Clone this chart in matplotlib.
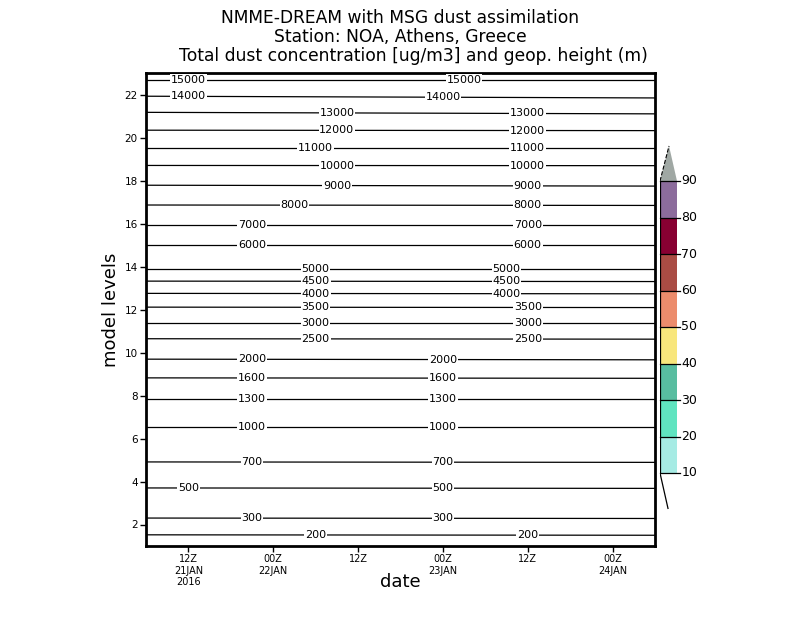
import matplotlib
matplotlib.use("Agg")
import matplotlib.pyplot as plt
import numpy as np

# geopotential height contours (m) and their position in model levels
geop_levels = [15000, 14000, 13000, 12000, 11000, 10000, 9000, 8000, 7000, 6000,
               5000, 4500, 4000, 3500, 3000, 2500, 2000, 1600, 1300, 1000,
               700, 500, 300, 200]
level_start = [22.69, 21.92, 21.17, 20.34, 19.51, 18.70, 17.78, 16.86, 15.91, 14.98,
               13.89, 13.32, 12.75, 12.11, 11.39, 10.64, 9.69, 8.82, 7.84, 6.55,
               4.91, 3.70, 2.30, 1.52]
level_end = [22.69, 21.84, 21.10, 20.32, 19.51, 18.69, 17.74, 16.84, 15.91, 14.98,
             13.89, 13.30, 12.73, 12.09, 11.39, 10.62, 9.66, 8.80, 7.84, 6.55,
             4.89, 3.68, 2.28, 1.50]
# hours after 06Z 21JAN where the labels sit
label_first = [6, 6, 27, 27, 24, 27, 27, 21, 15, 15,
               24, 24, 24, 24, 24, 24, 15, 15, 15, 15,
               15, 6, 15, 24]
label_second = [45, 42, 54, 54, 54, 54, 54, 54, 54, 54,
                51, 51, 51, 54, 54, 54, 42, 42, 42, 42,
                42, 42, 42, 54]

time_span = [0, 72]
xtick_hours = [6, 18, 30, 42, 54, 66]
xtick_labels = ["12Z\n21JAN\n2016", "00Z\n22JAN", "12Z", "00Z\n23JAN", "12Z", "00Z\n24JAN"]
ytick_levels = [2, 4, 6, 8, 10, 12, 14, 16, 18, 20, 22]

# dust colour scale
dust_bounds = [10, 20, 30, 40, 50, 60, 70, 80, 90]
dust_colors = ["#a6ebe4", "#60e4c0", "#58bda0", "#f8e67c", "#ec8c6c",
               "#aa4c44", "#880032", "#8c6c9c"]
over_color = "#a0a8a4"

W, H = 800, 618
fig = plt.figure(figsize=(8, 6.18), dpi=100)
ax = fig.add_axes([146 / W, 1 - 546 / H, 509 / W, 473 / H])

for g, y0, y1, l1, l2 in zip(geop_levels, level_start, level_end, label_first, label_second):
    ax.plot(time_span, [y0, y1], color="black", lw=0.9)
    for lh in (l1, l2):
        yy = y0 + (y1 - y0) * lh / 72
        ax.text(lh, yy, str(g), fontsize=8, ha="center", va="center",
                bbox=dict(facecolor="white", edgecolor="none", pad=0.6))

ax.set_xlim(0, 72)
ax.set_ylim(1, 23)
ax.set_xticks(xtick_hours)
ax.set_xticklabels(xtick_labels, fontsize=7, linespacing=1.15)
ax.set_yticks(ytick_levels)
ax.set_yticklabels([str(v) for v in ytick_levels], fontsize=7.5)
ax.tick_params(direction="out", length=4, width=1, pad=2)
for sp in ax.spines.values():
    sp.set_linewidth(2)
ax.set_xlabel("date", fontsize=13, labelpad=-10)
ax.set_ylabel("model levels", fontsize=13, labelpad=3)

fig.text(400 / W, 1 - 18 / H, "NMME-DREAM with MSG dust assimilation",
         fontsize=12.3, ha="center", va="center")
fig.text(400 / W, 1 - 37 / H, "Station: NOA, Athens, Greece",
         fontsize=12.3, ha="center", va="center")
fig.text(413 / W, 1 - 56 / H, "Total dust concentration [ug/m3] and geop. height (m)",
         fontsize=12.3, ha="center", va="center")

# colour bar drawn by hand
cax = fig.add_axes([660 / W, 1 - 509.5 / H, 17 / W, 365 / H])
cax.set_xlim(0, 1)
cax.set_ylim(0, 100)
cax.axis("off")
for lo, hi, c in zip(dust_bounds[:-1], dust_bounds[1:], dust_colors):
    cax.bar(0.5, hi - lo, bottom=lo, width=1, color=c, edgecolor="none")
cax.fill([0, 1, 0.53], [90, 90, 99.6], color=over_color, lw=0)
cax.plot([0, 0.53], [90, 99.6], color="black", lw=0.8, ls="--")
cax.plot([0, 0], [10, 90], color="black", lw=0.9)
cax.plot([0, 0.47], [10, 0.3], color="black", lw=0.9)
for b in dust_bounds:
    cax.plot([0, 1.2], [b, b], color="black", lw=0.9, clip_on=False)
    cax.text(1.25, b, str(b), fontsize=9, ha="left", va="center", clip_on=False)

fig.savefig("out.png", dpi=100)
